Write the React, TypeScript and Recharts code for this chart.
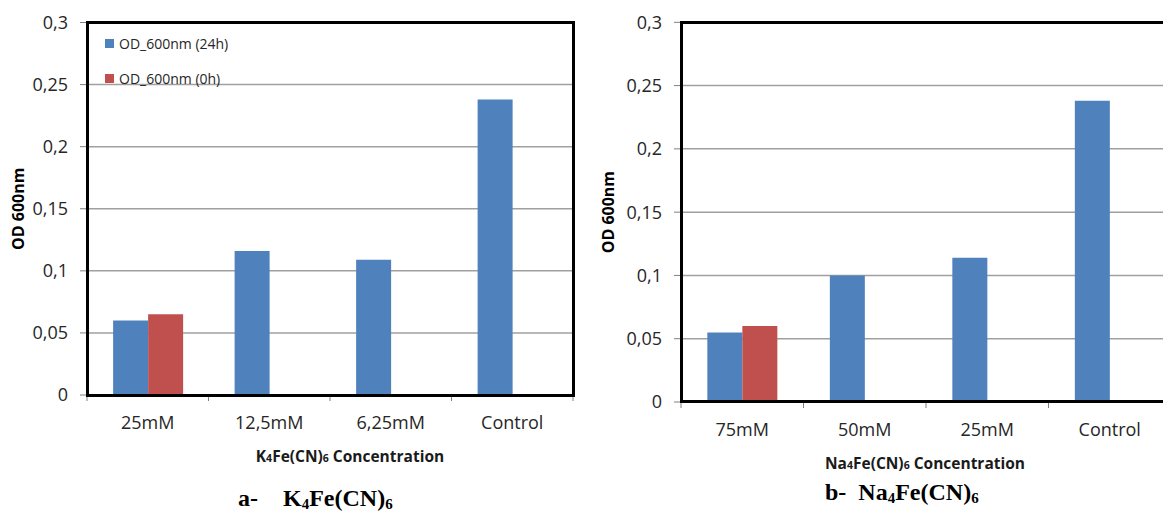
import { BarChart, Bar, XAxis, YAxis, CartesianGrid, Legend } from "recharts";

const k4Categories = ["25mM", "12,5mM", "6,25mM", "Control"];
const k4Od24h = [0.06, 0.116, 0.109, 0.238];
const k4Od0h = [0.065, null, null, null];

const na4Categories = ["75mM", "50mM", "25mM", "Control"];
const na4Od24h = [0.055, 0.1, 0.114, 0.238];
const na4Od0h = [0.06, null, null, null];

const yTicks = [0, 0.05, 0.1, 0.15, 0.2, 0.25, 0.3];
const seriesNames = ["OD_600nm (24h)", "OD_600nm (0h)"];

const BLUE = "#4f81bd";
const RED = "#c0504d";
const TEXT = "#262626";
const FONT = "'Open Sans', sans-serif";
const X_TICK_SIZE = 6;
const X_TICK_MARGIN = 15;

type PanelProps = {
  categories: string[];
  od24h: (number | null)[];
  od0h: (number | null)[];
  metal: string;
  left: number;
  width: number;
  axisWidth: number;
  plotTop: number;
  plotBottom: number;
  plotRight: number;
  titleX: number;
  showLegend?: boolean;
};

const renderLegend = (props: any) => {
  const items = [...(props.payload || [])].sort(
    (a: any, b: any) => seriesNames.indexOf(a.value) - seriesNames.indexOf(b.value)
  );
  return (
    <div style={{ fontFamily: FONT, fontSize: 14, color: TEXT }}>
      {items.map((entry: any) => (
        <div
          key={entry.value}
          style={{ display: "flex", alignItems: "center", height: 35 }}
        >
          <span
            style={{
              display: "inline-block",
              width: 9,
              height: 9,
              background: entry.color,
              marginRight: 5,
            }}
          />
          <span>{entry.value}</span>
        </div>
      ))}
    </div>
  );
};

// category label plus Excel-style tick marks between categories
const CategoryTick = (props: any) => {
  const { x, y, payload, index, visibleTicksCount } = props;
  const half = payload?.offset ?? 0;
  const top = y - X_TICK_MARGIN - X_TICK_SIZE;
  const bottom = y - X_TICK_MARGIN;
  return (
    <g>
      <line x1={x - half} x2={x - half} y1={top} y2={bottom} stroke="#808080" />
      {index === visibleTicksCount - 1 && (
        <line x1={x + half} x2={x + half} y1={top} y2={bottom} stroke="#808080" />
      )}
      <text
        x={x}
        y={y}
        dy="0.71em"
        textAnchor="middle"
        fill={TEXT}
        fontSize={18}
        fontFamily={FONT}
      >
        {payload.value}
      </text>
    </g>
  );
};

function Panel({
  categories,
  od24h,
  od0h,
  metal,
  left,
  width,
  axisWidth,
  plotTop,
  plotBottom,
  plotRight,
  titleX,
  showLegend,
}: PanelProps) {
  const data = categories.map((name, i) => ({
    name,
    od24: od24h[i],
    od0: od0h[i],
  }));
  const height = 514;

  return (
    <div style={{ position: "absolute", left, top: 0, width, height }}>
      <BarChart
        width={width}
        height={height}
        data={data}
        barCategoryGap="21.5%"
        barGap={0}
        margin={{
          top: plotTop,
          right: width - plotRight,
          left: 0,
          bottom: height - plotBottom - 30,
        }}
      >
        <CartesianGrid vertical={false} stroke="#a0a0a0" strokeWidth={1.5} />
        <XAxis
          dataKey="name"
          height={30}
          axisLine={false}
          tickLine={false}
          tickSize={X_TICK_SIZE}
          tickMargin={X_TICK_MARGIN}
          interval={0}
          tick={<CategoryTick />}
        />
        <YAxis
          domain={[0, 0.3]}
          ticks={yTicks}
          width={axisWidth}
          axisLine={{ stroke: "#404040", strokeWidth: 2 }}
          tickLine={{ stroke: "#808080" }}
          tickSize={7}
          tickMargin={12}
          tick={{ fill: TEXT, fontSize: 18, fontFamily: FONT }}
          tickFormatter={(v: number) => String(v).replace(".", ",")}
          label={{
            value: "OD 600nm",
            angle: -90,
            position: "insideLeft",
            offset: 18,
            style: {
              fontFamily: FONT,
              fontWeight: 700,
              fontSize: 16,
              fill: "#000",
              textAnchor: "middle",
            },
          }}
        />
        {showLegend && (
          <Legend
            layout="vertical"
            align="center"
            verticalAlign="middle"
            content={renderLegend}
            wrapperStyle={{ left: 105, top: 26, width: "auto" }}
          />
        )}
        <Bar
          dataKey="od24"
          name={seriesNames[0]}
          fill={BLUE}
          isAnimationActive={false}
        />
        <Bar
          dataKey="od0"
          name={seriesNames[1]}
          fill={RED}
          isAnimationActive={false}
        />
      </BarChart>
      <div
        style={{
          position: "absolute",
          left: axisWidth - 1.5,
          top: plotTop - 1.5,
          width: plotRight - axisWidth + 3,
          height: plotBottom - plotTop + 3,
          border: "3px solid #000",
          boxSizing: "border-box",
          pointerEvents: "none",
        }}
      />
      <div
        style={{
          position: "absolute",
          left: titleX - 150,
          width: 300,
          top: plotBottom + 50,
          textAlign: "center",
          fontFamily: FONT,
          fontWeight: 700,
          fontSize: 15.5,
          color: "#1a1a1a",
          whiteSpace: "nowrap",
        }}
      >
        {metal}
        <span style={{ fontSize: 10.5 }}>4</span>Fe(CN)
        <span style={{ fontSize: 10.5 }}>6</span> Concentration
      </div>
    </div>
  );
}

function Caption({
  left,
  top,
  letter,
  gap,
  metal,
}: {
  left: number;
  top: number;
  letter: string;
  gap: number;
  metal: string;
}) {
  const sub = { fontSize: 15, verticalAlign: "-3px" } as const;
  return (
    <div
      style={{
        position: "absolute",
        left,
        top,
        fontFamily: "'Liberation Serif', 'Times New Roman', serif",
        fontWeight: 700,
        fontSize: 24,
        color: "#000",
        whiteSpace: "nowrap",
      }}
    >
      <span style={{ marginRight: gap }}>{letter}</span>
      {metal}
      <span style={sub}>4</span>Fe(CN)<span style={sub}>6</span>
    </div>
  );
}

export default function App() {
  return (
    <div
      style={{
        position: "fixed",
        left: 0,
        top: 0,
        width: 1163,
        height: 514,
        overflow: "hidden",
        background: "#fff",
      }}
    >
      <Panel
        categories={k4Categories}
        od24h={k4Od24h}
        od0h={k4Od0h}
        metal="K"
        left={0}
        width={590}
        axisWidth={87}
        plotTop={22.5}
        plotBottom={395}
        plotRight={573}
        titleX={350}
        showLegend
      />
      <Panel
        categories={na4Categories}
        od24h={na4Od24h}
        od0h={na4Od0h}
        metal="Na"
        left={590}
        width={600}
        axisWidth={91}
        plotTop={22.3}
        plotBottom={402}
        plotRight={581}
        titleX={335}
      />
      <Caption left={238} top={485} letter="a-" gap={25} metal="K" />
      <Caption left={825} top={479} letter="b-" gap={12} metal="Na" />
    </div>
  );
}
